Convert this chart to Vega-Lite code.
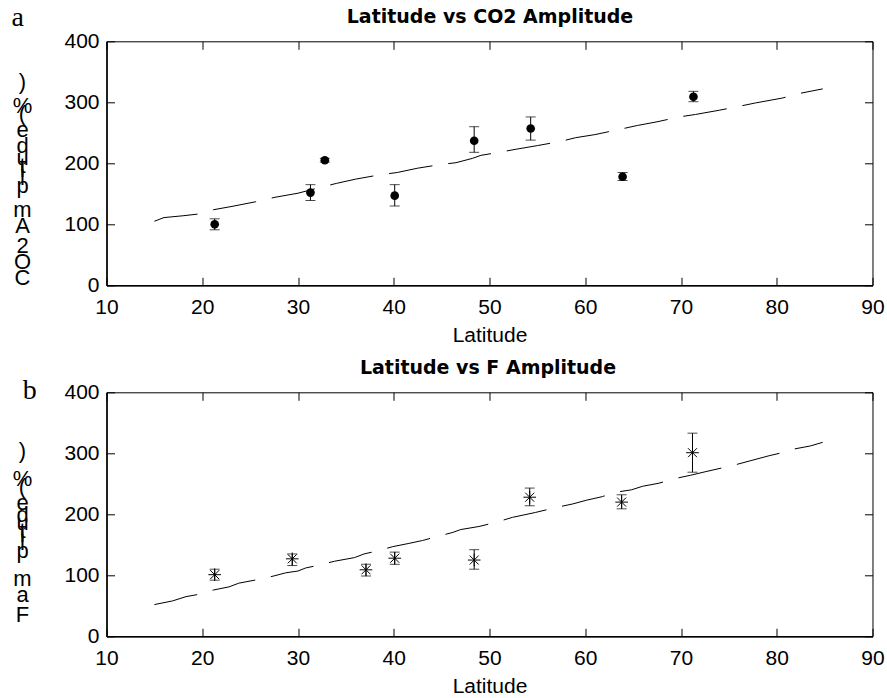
{
  "$schema": "https://vega.github.io/schema/vega-lite/v6.json",
  "background": "white",
  "padding": {"left": 9.5, "top": 2.3, "right": 5, "bottom": 5},
  "config": {
    "view": {"stroke": "#000", "strokeWidth": 1},
    "axis": {"grid": false, "domainColor": "#000", "domainWidth": 1.5, "tickColor": "#000", "tickSize": -8, "tickWidth": 1, "labelColor": "#000", "titleColor": "#000", "labelFont": "Liberation Sans", "labelFontSize": 21, "titleFont": "Liberation Sans", "titleFontWeight": "normal", "labelFlush": false, "labelBound": false, "labelOverlap": false}
  },
  "datasets": {
    "co2_fit": [
      {"lat": 15, "amp": 105}, {"lat": 16, "amp": 111}, {"lat": 18, "amp": 114}, {"lat": 19.7, "amp": 117}, {"lat": 21.2, "amp": 124}, {"lat": 23, "amp": 129}, {"lat": 25.6, "amp": 137}, {"lat": 27.5, "amp": 144}, {"lat": 30, "amp": 151}, {"lat": 32.2, "amp": 160}, {"lat": 34, "amp": 167}, {"lat": 36, "amp": 174}, {"lat": 38.5, "amp": 181}, {"lat": 40.4, "amp": 185}, {"lat": 42.5, "amp": 192}, {"lat": 44.9, "amp": 198}, {"lat": 46.5, "amp": 201}, {"lat": 48.2, "amp": 208}, {"lat": 49.1, "amp": 213}, {"lat": 51, "amp": 218}, {"lat": 52.75, "amp": 223}, {"lat": 55, "amp": 229}, {"lat": 57.45, "amp": 236}, {"lat": 59, "amp": 242}, {"lat": 61, "amp": 247}, {"lat": 63.7, "amp": 256}, {"lat": 65.45, "amp": 262}, {"lat": 67.5, "amp": 268}, {"lat": 69.8, "amp": 276}, {"lat": 71.5, "amp": 280}, {"lat": 74, "amp": 287}, {"lat": 76.25, "amp": 294}, {"lat": 77.8, "amp": 299}, {"lat": 80.6, "amp": 307}, {"lat": 82.2, "amp": 314}, {"lat": 84.8, "amp": 322}
    ],
    "co2_pts": [
      {"lat": 21.3, "amp": 100, "lo": 91, "hi": 109},
      {"lat": 31.3, "amp": 152, "lo": 139, "hi": 165},
      {"lat": 32.8, "amp": 205, "lo": 202, "hi": 208},
      {"lat": 40.1, "amp": 147, "lo": 130, "hi": 165},
      {"lat": 48.4, "amp": 237, "lo": 218, "hi": 260},
      {"lat": 54.3, "amp": 257, "lo": 238, "hi": 276},
      {"lat": 63.9, "amp": 178, "lo": 172, "hi": 185},
      {"lat": 71.3, "amp": 309, "lo": 301, "hi": 318}
    ],
    "f_fit": [
      {"lat": 15, "amp": 52}, {"lat": 16.9, "amp": 58}, {"lat": 18.3, "amp": 65}, {"lat": 19.7, "amp": 69}, {"lat": 21.2, "amp": 76}, {"lat": 22.8, "amp": 81}, {"lat": 23.8, "amp": 87}, {"lat": 25.8, "amp": 93}, {"lat": 27.5, "amp": 99}, {"lat": 28.7, "amp": 104}, {"lat": 30, "amp": 107}, {"lat": 30.8, "amp": 112}, {"lat": 32, "amp": 116}, {"lat": 33.8, "amp": 123}, {"lat": 35.9, "amp": 129}, {"lat": 36.9, "amp": 135}, {"lat": 38.3, "amp": 140}, {"lat": 39.9, "amp": 147}, {"lat": 41.5, "amp": 152}, {"lat": 43, "amp": 157}, {"lat": 44.4, "amp": 163}, {"lat": 46.1, "amp": 170}, {"lat": 47, "amp": 175}, {"lat": 48.9, "amp": 180}, {"lat": 50.7, "amp": 187}, {"lat": 52.4, "amp": 195}, {"lat": 54.8, "amp": 203}, {"lat": 56.9, "amp": 211}, {"lat": 58.7, "amp": 217}, {"lat": 60.1, "amp": 223}, {"lat": 61.8, "amp": 229}, {"lat": 63.1, "amp": 236}, {"lat": 64.8, "amp": 240}, {"lat": 66, "amp": 246}, {"lat": 67.7, "amp": 251}, {"lat": 69.5, "amp": 259}, {"lat": 71, "amp": 264}, {"lat": 72.6, "amp": 270}, {"lat": 75.4, "amp": 280}, {"lat": 77.3, "amp": 288}, {"lat": 79.2, "amp": 296}, {"lat": 81.1, "amp": 303}, {"lat": 81.8, "amp": 307}, {"lat": 83.5, "amp": 312}, {"lat": 84.8, "amp": 318}
    ],
    "f_pts": [
      {"lat": 21.3, "amp": 101, "lo": 92, "hi": 110},
      {"lat": 29.4, "amp": 127, "lo": 116, "hi": 135},
      {"lat": 37.1, "amp": 109, "lo": 99, "hi": 118},
      {"lat": 40.1, "amp": 128, "lo": 118, "hi": 138},
      {"lat": 48.4, "amp": 125, "lo": 110, "hi": 142},
      {"lat": 54.2, "amp": 228, "lo": 214, "hi": 243},
      {"lat": 63.8, "amp": 220, "lo": 209, "hi": 232},
      {"lat": 71.2, "amp": 301, "lo": 269, "hi": 333}
    ]
  },
  "vconcat": [
    {
      "width": 766,
      "height": 244,
      "resolve": {"axis": {"x": "independent", "y": "independent"}},
      "layer": [
        {
          "data": {"name": "co2_fit"},
          "mark": {"type": "line", "color": "#000", "strokeWidth": 1, "strokeDash": [44, 16]},
          "encoding": {
            "x": {"field": "lat", "type": "quantitative", "scale": {"domain": [10, 90], "nice": false, "zero": false},
              "axis": {"orient": "bottom", "values": [10, 20, 30, 40, 50, 60, 70, 80, 90], "labelPadding": 19, "title": "Latitude", "titleFontSize": 21, "titleY": 56, "titleBaseline": "alphabetic"}},
            "y": {"field": "amp", "type": "quantitative", "scale": {"domain": [0, 400], "nice": false, "zero": true},
              "axis": {"orient": "left", "values": [0, 100, 200, 300, 400], "labelPadding": 15.5,
                "title": [")", "\u2800", "\u2800", "\u2800", "\u2800", "\u2800", "%", "\u2800", "(", "\u2800", "\u2800", "\u2800", "e", "\u2800", "\u2800", "\u2800", "d", "\u2800", "\u2800", "u", "\u2800", "t", "i", "\u2800", "l", "\u2800", "p", "\u2800", "\u2800", "\u2800", "\u2800", "\u2800", "m", "\u2800", "\u2800", "\u2800", "A", "\u2800", "\u2800", "\u2800", "\u2800", "2", "\u2800", "\u2800", "\u2800", "O", "\u2800", "\u2800", "\u2800", "C"],
                "titleAngle": 0, "titleX": -84.5, "titleY": 30.4, "titleAlign": "center", "titleBaseline": "top", "titleFontSize": 22, "titleLineHeight": 4}}
          }
        },
        {
          "data": {"name": "co2_pts"},
          "mark": {"type": "rule", "color": "#000", "strokeWidth": 1},
          "encoding": {
            "x": {"field": "lat", "type": "quantitative",
              "axis": {"orient": "top", "values": [10, 20, 30, 40, 50, 60, 70, 80, 90], "labels": false, "domain": false, "title": "Latitude vs CO2 Amplitude", "titleFont": "DejaVu Sans", "titleFontWeight": "bold", "titleFontSize": 19, "titleX": 383, "titleY": -19, "titleAngle": 0, "titleAlign": "center", "titleBaseline": "alphabetic"}},
            "y": {"field": "lo", "type": "quantitative",
              "axis": {"orient": "right", "values": [0, 100, 200, 300, 400], "labels": false, "domain": false, "title": "a", "titleFont": "Liberation Serif", "titleFontSize": 28, "titleX": -855.3, "titleY": -15.6, "titleAngle": 0, "titleAlign": "center", "titleBaseline": "alphabetic"}},
            "y2": {"field": "hi"}
          }
        },
        {
          "data": {"name": "co2_pts"},
          "mark": {"type": "tick", "orient": "horizontal", "size": 10, "thickness": 1, "color": "#000"},
          "encoding": {
            "x": {"field": "lat", "type": "quantitative", "axis": null},
            "y": {"field": "lo", "type": "quantitative", "axis": null}
          }
        },
        {
          "data": {"name": "co2_pts"},
          "mark": {"type": "tick", "orient": "horizontal", "size": 10, "thickness": 1, "color": "#000"},
          "encoding": {
            "x": {"field": "lat", "type": "quantitative", "axis": null},
            "y": {"field": "hi", "type": "quantitative", "axis": null}
          }
        },
        {
          "data": {"name": "co2_pts"},
          "mark": {"type": "point", "shape": "circle", "filled": true, "color": "#000", "size": 75, "opacity": 1},
          "encoding": {
            "x": {"field": "lat", "type": "quantitative", "axis": null},
            "y": {"field": "amp", "type": "quantitative", "axis": null}
          }
        }
      ]
    },
    {
      "width": 766,
      "height": 244,
      "resolve": {"axis": {"x": "independent", "y": "independent"}},
      "layer": [
        {
          "data": {"name": "f_fit"},
          "mark": {"type": "line", "color": "#000", "strokeWidth": 1, "strokeDash": [44, 16]},
          "encoding": {
            "x": {"field": "lat", "type": "quantitative", "scale": {"domain": [10, 90], "nice": false, "zero": false},
              "axis": {"orient": "bottom", "values": [10, 20, 30, 40, 50, 60, 70, 80, 90], "labelPadding": 19, "title": "Latitude", "titleFontSize": 21, "titleY": 56, "titleBaseline": "alphabetic"}},
            "y": {"field": "amp", "type": "quantitative", "scale": {"domain": [0, 400], "nice": false, "zero": true},
              "axis": {"orient": "left", "values": [0, 100, 200, 300, 400], "labelPadding": 15.5,
                "title": [")", "\u2800", "\u2800", "\u2800", "\u2800", "\u2800", "\u2800", "%", "\u2800", "(", "\u2800", "\u2800", "\u2800", "e", "\u2800", "\u2800", "d", "\u2800", "u", "\u2800", "t", "i", "\u2800", "l", "\u2800", "p", "\u2800", "\u2800", "\u2800", "\u2800", "\u2800", "\u2800", "m", "\u2800", "\u2800", "\u2800", "a", "\u2800", "\u2800", "\u2800", "\u2800", "F"],
                "titleAngle": 0, "titleX": -84.5, "titleY": 47.9, "titleAlign": "center", "titleBaseline": "top", "titleFontSize": 22, "titleLineHeight": 4}}
          }
        },
        {
          "data": {"name": "f_pts"},
          "mark": {"type": "rule", "color": "#000", "strokeWidth": 1},
          "encoding": {
            "x": {"field": "lat", "type": "quantitative",
              "axis": {"orient": "top", "values": [10, 20, 30, 40, 50, 60, 70, 80, 90], "labels": false, "domain": false, "title": "Latitude vs F Amplitude", "titleFont": "DejaVu Sans", "titleFontWeight": "bold", "titleFontSize": 19, "titleX": 381, "titleY": -18.3, "titleAngle": 0, "titleAlign": "center", "titleBaseline": "alphabetic"}},
            "y": {"field": "lo", "type": "quantitative",
              "axis": {"orient": "right", "values": [0, 100, 200, 300, 400], "labels": false, "domain": false, "title": "b", "titleFont": "Liberation Serif", "titleFontSize": 28, "titleX": -843.3, "titleY": 6.7, "titleAngle": 0, "titleAlign": "center", "titleBaseline": "alphabetic"}},
            "y2": {"field": "hi"}
          }
        },
        {
          "data": {"name": "f_pts"},
          "mark": {"type": "tick", "orient": "horizontal", "size": 10, "thickness": 1, "color": "#000"},
          "encoding": {
            "x": {"field": "lat", "type": "quantitative", "axis": null},
            "y": {"field": "lo", "type": "quantitative", "axis": null}
          }
        },
        {
          "data": {"name": "f_pts"},
          "mark": {"type": "tick", "orient": "horizontal", "size": 10, "thickness": 1, "color": "#000"},
          "encoding": {
            "x": {"field": "lat", "type": "quantitative", "axis": null},
            "y": {"field": "hi", "type": "quantitative", "axis": null}
          }
        },
        {
          "data": {"name": "f_pts"},
          "mark": {"type": "point", "shape": "M-1,0L1,0M0,-1L0,1M-0.71,-0.71L0.71,0.71M-0.71,0.71L0.71,-0.71", "filled": false, "color": "#000", "strokeWidth": 1, "size": 160, "opacity": 1},
          "encoding": {
            "x": {"field": "lat", "type": "quantitative", "axis": null},
            "y": {"field": "amp", "type": "quantitative", "axis": null}
          }
        }
      ]
    }
  ],
  "spacing": 107,
  "bounds": "flush"
}
